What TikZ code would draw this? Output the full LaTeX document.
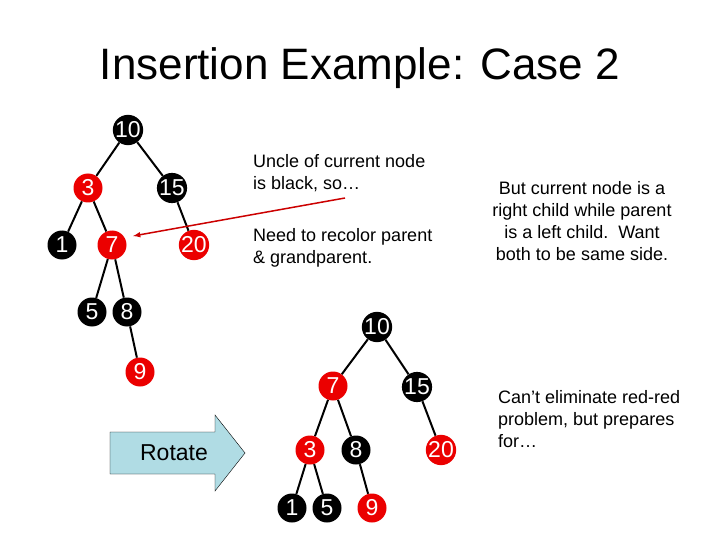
\documentclass[tikz,border=0pt]{standalone}
\usepackage{fontspec}
\setmainfont{Liberation Sans}
\definecolor{lightbluec}{RGB}{176,220,228}
\begin{document}
\begin{tikzpicture}[x=1pt,y=-1pt,
 bn/.style={circle,fill=black,inner sep=0pt,minimum size=29pt,text=white,font=\fontsize{23}{23}\selectfont},
 rn/.style={bn,fill=red!92!black},
 ed/.style={line width=2pt},
 txt/.style={font=\fontsize{18}{22}\selectfont,align=left,anchor=north west,inner sep=0pt}]
\useasboundingbox[fill=white] (0,0) rectangle (720,540);
\node[font=\fontsize{44}{44}\selectfont] (title) at (360,68) {Insertion Example: Case 2};
% tree 1
\node[bn] (a10) at (128,130) {10};
\node[rn] (a3) at (88,188) {3};
\node[bn] (a15) at (172,188) {15};
\node[bn] (a1) at (62,245) {1};
\node[rn] (a7) at (112,245) {7};
\node[rn] (a20) at (194,245) {20};
\node[bn] (a5) at (92,312) {5};
\node[bn] (a8) at (127,312) {8};
\node[rn] (a9) at (140,372) {9};
\draw[ed] (a10)--(a3) (a10)--(a15) (a3)--(a1) (a3)--(a7) (a15)--(a20) (a7)--(a5) (a7)--(a8) (a8)--(a9);
% tree 2
\node[bn] (b10) at (377,327) {10};
\node[rn] (b7) at (333,386) {7};
\node[bn] (b15) at (417,387) {15};
\node[rn] (b3) at (310,450) {3};
\node[bn] (b8) at (356,450) {8};
\node[rn] (b20) at (441,450) {20};
\node[bn] (b1) at (292,508) {1};
\node[bn] (b5) at (327,508) {5};
\node[rn] (b9) at (372,508) {9};
\draw[ed] (b10)--(b7) (b10)--(b15) (b7)--(b3) (b7)--(b8) (b15)--(b20) (b3)--(b1) (b3)--(b5) (b8)--(b9);
% texts
\node[txt] (t1) at (253,154) {Uncle of current node\\is black, so…};
\node[txt] (t2) at (253,228) {Need to recolor parent\\\& grandparent.};
\node[font=\fontsize{18}{22}\selectfont,align=center] (t3) at (582,221) {But current node is a\\right child while parent\\is a left child.\ \ Want\\both to be same side.};
\node[txt] (t4) at (498,390) {Can’t eliminate red-red\\problem, but prepares\\for…};
\coordinate (arrs) at (345,198);
\draw[red!80!black,line width=1.5pt,-latex] (arrs) -- (133,236);
% rotate arrow
\draw[fill=lightbluec] (110,432) -- (215,432) -- (215,415) -- (245,453) -- (215,491) -- (215,474) -- (110,474) -- cycle;
\node[font=\fontsize{23}{23}\selectfont] (rot) at (174,453) {Rotate};
\end{tikzpicture}
\end{document}
